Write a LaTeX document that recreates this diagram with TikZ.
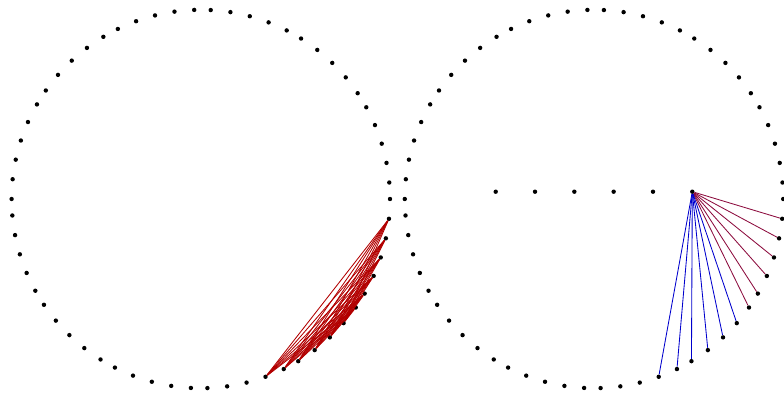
\documentclass[tikz,border=0pt]{standalone}
\definecolor{edgered}{RGB}{178,0,0}
\definecolor{edgewine}{RGB}{140,12,62}
\definecolor{edgeblue}{RGB}{0,0,205}
\usepackage{tikz}
\usetikzlibrary{calc}

\begin{document}
\begin{tikzpicture}[x=1pt,y=1pt,
  dot/.style={circle,fill=black,inner sep=0pt,minimum size=4.4pt},
  bip/.style={edgered,line width=0.85pt},
  hubred/.style={edgewine,line width=0.85pt},
  hubblue/.style={edgeblue,line width=0.85pt}]
\useasboundingbox (0,0) rectangle (784,392);
% left ring
\begin{scope}[shift={(200.8,193)}]
\foreach \j in {0,...,61} \node[dot] (L\j) at ({floor(\j*5.80646)}:189.2) {};
\end{scope}
% right ring with the inner row
\begin{scope}[shift={(594,193)}]
\foreach \j in {0,...,61} \node[dot] (R\j) at ({floor(\j*5.80646)}:189.2) {};
\foreach \k in {1,...,6} \node[dot] (P\k) at ({-98.3+(\k-1)*39.32},7.3) {};
\end{scope}
\foreach \a in {50,...,55}
  \foreach \b in {56,...,61}
    \draw[bip] (L\a) -- (L\b);
\foreach \b in {56,...,61} \draw[hubred] (P6) -- (R\b);
\foreach \a in {50,...,55} \draw[hubblue] (P6) -- (R\a);
\end{tikzpicture}
\end{document}
